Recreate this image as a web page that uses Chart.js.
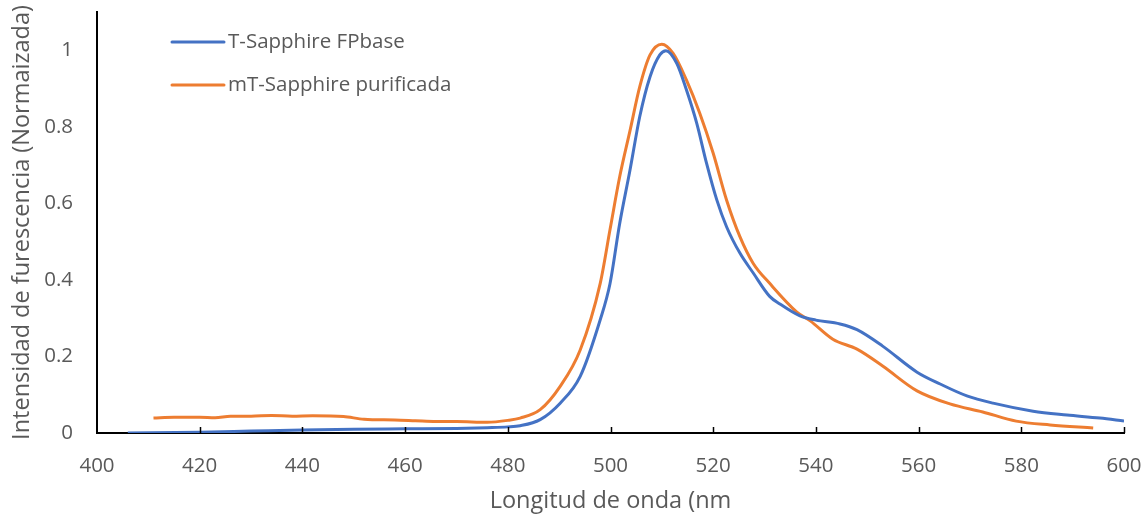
<!DOCTYPE html>
<html>
<head>
<meta charset="utf-8">
<script src="https://cdn.jsdelivr.net/npm/chart.js@4.4.1/dist/chart.umd.min.js"></script>
<style>
  html, body { margin: 0; padding: 0; background: #fff; }
  #wrap { width: 1143px; height: 515px; }
</style>
</head>
<body>
<div id="wrap"><canvas id="spectrumChart"></canvas></div>
<script>
// Emission spectra
const seriesLabels = ['T-Sapphire FPbase', 'mT-Sapphire purificada'];
const seriesColors = ['#4472C4', '#ED7D31'];

const blueNm = [406, 420, 430, 440, 450, 460, 470, 476, 480, 482.4, 486.3, 490.2, 494.1, 498, 499.9,
    501.8, 503.8, 505.7, 507.7, 509.6, 510.8, 512.9, 514.8, 516.8, 518.7, 520.7, 522.6, 525.2,
    527.8, 531, 533, 536.9, 540, 544.7, 548, 553, 559.7, 564.2, 569.4, 574.5, 582.3, 588.9, 595.3, 600];
const blueVals = [0, 0.002, 0.005, 0.008, 0.010, 0.011, 0.012, 0.014, 0.016, 0.019, 0.035, 0.078, 0.148, 0.296, 0.39,
    0.548, 0.687, 0.827, 0.931, 0.988, 0.999, 0.966, 0.896, 0.809, 0.705, 0.609, 0.539, 0.47,
    0.418, 0.357, 0.337, 0.306, 0.295, 0.285, 0.27, 0.227, 0.159, 0.128, 0.097, 0.078, 0.057, 0.047, 0.039, 0.031];

const orangeNm = [411, 415, 420, 423, 426, 430, 434, 438, 442, 448, 452, 458, 462, 466, 470, 476, 480,
    482.4, 486.3, 490.2, 494.1, 498, 499.9, 501.8, 503.8, 505.7, 507.7, 510, 512.2, 514.8, 517.4,
    520, 522.6, 525.2, 527.8, 531, 536.3, 538.9, 543.3, 548, 553, 559.7, 566.1, 572.5, 579, 585.6, 594];
const orangeVals = [0.039, 0.041, 0.041, 0.040, 0.044, 0.044, 0.046, 0.044, 0.045, 0.043, 0.036, 0.034, 0.032, 0.030, 0.030, 0.028, 0.033,
    0.039, 0.061, 0.122, 0.217, 0.391, 0.531, 0.67, 0.79, 0.905, 0.988, 1.016, 0.992, 0.922, 0.835,
    0.731, 0.609, 0.513, 0.443, 0.391, 0.316, 0.293, 0.245, 0.219, 0.175, 0.11, 0.076, 0.055, 0.031, 0.021, 0.013];

const yTickValues = [0, 0.2, 0.4, 0.6, 0.8, 1];

function toPoints(xs, ys) {
    return xs.map((x, i) => ({ x: x, y: ys[i] }));
}

Chart.defaults.font.family = "'Open Sans', sans-serif";
Chart.defaults.color = '#595959';

// small tick marks pointing up from the x axis, and the legend inside the plot
const axisExtras = {
    id: 'axisExtras',
    afterDraw(chart) {
        const ctx = chart.ctx;
        const xs = chart.scales.x;
        const area = chart.chartArea;
        ctx.save();
        ctx.strokeStyle = '#000';
        ctx.lineWidth = 1.5;
        xs.ticks.forEach(t => {
            if (t.value === 400) return;
            const px = Math.round(xs.getPixelForValue(t.value)) + 0.5;
            ctx.beginPath();
            ctx.moveTo(px, area.bottom);
            ctx.lineTo(px, area.bottom - 6);
            ctx.stroke();
        });
        // legend
        ctx.font = "20.5px 'Open Sans', sans-serif";
        ctx.textBaseline = 'middle';
        ctx.fillStyle = '#595959';
        const rows = [42, 85];
        chart.data.datasets.forEach((ds, i) => {
            ctx.strokeStyle = ds.borderColor;
            ctx.lineWidth = 3;
            ctx.lineCap = 'round';
            ctx.beginPath();
            ctx.moveTo(172, rows[i]);
            ctx.lineTo(224, rows[i]);
            ctx.stroke();
            ctx.fillText(ds.label, 228, rows[i]);
        });
        ctx.restore();
    }
};

new Chart(document.getElementById('spectrumChart'), {
    type: 'line',
    data: {
        datasets: [
            {
                label: seriesLabels[0],
                data: toPoints(blueNm, blueVals),
                borderColor: seriesColors[0],
                borderWidth: 3,
                pointRadius: 0,
                cubicInterpolationMode: 'monotone',
                fill: false
            },
            {
                label: seriesLabels[1],
                data: toPoints(orangeNm, orangeVals),
                borderColor: seriesColors[1],
                borderWidth: 3,
                pointRadius: 0,
                cubicInterpolationMode: 'monotone',
                fill: false
            }
        ]
    },
    options: {
        responsive: true,
        maintainAspectRatio: false,
        animation: false,
        layout: { padding: { top: 12, right: 19, left: 0, bottom: 0 } },
        plugins: {
            legend: { display: false },
            tooltip: { enabled: false }
        },
        scales: {
            x: {
                type: 'linear',
                min: 400,
                max: 600,
                ticks: { stepSize: 20, padding: 13, font: { size: 20.5 }, color: '#595959' },
                grid: { display: false },
                border: { display: true, color: '#000', width: 2 },
                title: {
                    display: true,
                    text: 'Longitud de onda (nm',
                    font: { size: 23.5 },
                    color: '#595959',
                    padding: { top: 2, bottom: 0 }
                },
                afterFit(scale) {
                    scale.height = 82;
                    scale.paddingLeft = 0;
                    scale.paddingRight = 0;
                }
            },
            y: {
                min: 0,
                max: 1.1,
                afterBuildTicks(scale) {
                    scale.ticks = yTickValues.map(v => ({ value: v }));
                },
                ticks: {
                    padding: 16,
                    font: { size: 20.5 },
                    color: '#595959',
                    callback: v => String(Number(v.toFixed(1)))
                },
                grid: { display: false },
                border: { display: true, color: '#000', width: 2 },
                title: {
                    display: true,
                    text: 'Intensidad de furescencia (Normaizada)',
                    font: { size: 23.5 },
                    color: '#595959',
                    padding: { top: 8, bottom: 0 }
                },
                afterFit(scale) {
                    scale.width = 97;
                    scale.paddingTop = 0;
                    scale.paddingBottom = 0;
                }
            }
        }
    },
    plugins: [axisExtras]
});
</script>
</body>
</html>
